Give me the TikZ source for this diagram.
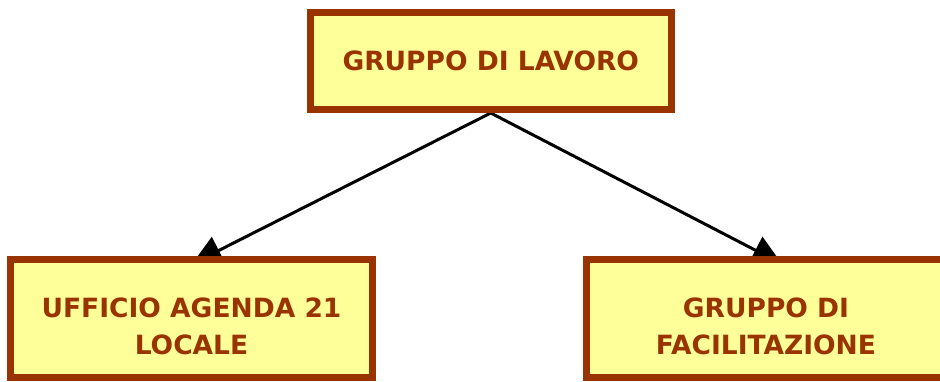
\documentclass[tikz,border=0pt]{standalone}
\usepackage{fontspec}
\setmainfont{DejaVu Sans}
\usetikzlibrary{arrows.meta,backgrounds}
\definecolor{boxborder}{HTML}{993300}
\definecolor{boxfill}{HTML}{FFFF99}
\tikzset{
  orgbox/.style={draw=boxborder, fill=boxfill, line width=7pt, inner sep=0pt, rectangle},
  orgtext/.style={text=boxborder, font=\fontsize{26.5}{37}\selectfont\bfseries, align=center, inner sep=0pt},
  conn/.style={line width=3pt, -{Triangle[length=30pt,width=30pt]}}
}
\begin{document}
\begin{tikzpicture}[x=1pt,y=-1pt]
\useasboundingbox (0,0) rectangle (940,381);
\node[orgbox, orgtext, minimum width=360.5pt, minimum height=97pt] (top) at (490.75,61) {GRUPPO DI LAVORO};
\node[orgbox, minimum width=362pt, minimum height=118pt,
      label={[orgtext, yshift=-7.5pt]center:{UFFICIO AGENDA 21\\LOCALE}}] (left) at (191.5,318.5) {};
\node[orgbox, minimum width=359pt, minimum height=118pt,
      label={[orgtext, yshift=-7.5pt]center:{GRUPPO DI\\FACILITAZIONE}}] (right) at (766,318.5) {};
\begin{scope}[on background layer]
\coordinate (lefttip) at ([xshift=0.5pt,yshift=-8pt]left.north);
\coordinate (righttip) at ([xshift=16pt,yshift=-8pt]right.north);
\draw[conn] (top.south) -- (lefttip);
\draw[conn] (top.south) -- (righttip);
\end{scope}
\end{tikzpicture}
\end{document}
